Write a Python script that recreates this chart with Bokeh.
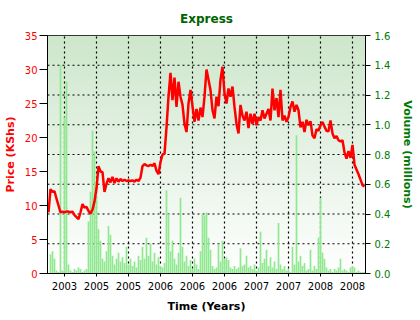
import numpy as np
from bokeh.plotting import figure
from bokeh.models import Range1d, LinearAxis, FixedTicker, Span, PrintfTickFormatter
from bokeh.embed import file_html
from bokeh.resources import INLINE

# ---- data (one sample per trading period) ----
price = [
    9.0, 12.4, 12.0, 12.1, 11.0, 10.0, 9.0, 9.1, 9.0, 9.1,
    9.1, 9.0, 9.1, 8.6, 8.3, 8.0, 9.0, 10.2, 9.7, 9.8,
    9.2, 8.8, 9.4, 10.6, 12.5, 15.8, 15.0, 14.9, 12.0, 13.2,
    14.0, 13.4, 14.2, 13.3, 14.0, 13.5, 13.9, 13.6, 13.8, 13.6,
    13.7, 13.6, 13.7, 13.5, 13.8, 13.6, 14.1, 15.8, 16.1, 15.9,
    15.8, 16.0, 15.8, 16.2, 15.1, 14.6, 16.4, 17.5, 17.6, 21.5,
    26.0, 29.5, 25.5, 28.8, 24.5, 28.2, 26.0, 24.8, 22.0, 20.8,
    25.0, 27.0, 24.6, 22.3, 24.2, 22.5, 24.4, 23.0, 26.0, 30.0,
    28.5, 27.0, 24.0, 22.8, 26.0, 24.6, 28.5, 30.4, 26.5, 25.0,
    27.2, 26.0, 27.5, 24.5, 22.0, 20.6, 24.8, 23.2, 22.5, 23.8,
    21.4, 23.5, 22.0, 23.5, 21.8, 23.0, 22.5, 24.0, 22.8, 23.5,
    24.2, 22.5, 27.2, 24.0, 25.8, 23.0, 27.0, 22.5, 23.2, 22.3,
    23.0, 24.5, 25.3, 23.8, 24.8, 24.0, 21.5, 22.3, 20.8, 22.6,
    21.8, 22.4, 20.3, 19.9, 21.2, 21.0, 21.8, 22.3, 21.6, 21.0,
    20.9, 22.5, 20.6, 19.9, 20.2, 19.6, 19.4, 19.6, 17.8, 16.9,
    18.0, 17.0, 18.9, 16.0, 15.3, 14.6, 13.8, 13.0, 12.8,
]
volume = [
    0.00, 0.13, 0.15, 0.10, 0.02, 0.01, 1.40, 0.02, 1.05, 1.29,
    0.06, 0.02, 0.01, 0.03, 0.02, 0.04, 0.03, 0.01, 0.02, 0.03,
    0.35, 0.55, 0.96, 0.82, 0.52, 0.30, 0.22, 0.10, 0.08, 0.15,
    0.32, 0.26, 0.12, 0.06, 0.10, 0.14, 0.08, 0.11, 0.07, 0.18,
    0.06, 0.10, 0.05, 0.08, 0.04, 0.12, 0.09, 0.18, 0.10, 0.24,
    0.12, 0.20, 0.08, 0.14, 0.06, 0.11, 0.05, 0.04, 0.07, 0.56,
    0.40, 0.15, 0.22, 0.10, 0.06, 0.14, 0.51, 0.18, 0.08, 0.12,
    0.05, 0.09, 0.03, 0.10, 0.06, 0.03, 0.15, 0.40, 0.39, 0.41,
    0.24, 0.16, 0.05, 0.03, 0.04, 0.20, 0.08, 0.22, 0.10, 0.11,
    0.09, 0.04, 0.03, 0.05, 0.03, 0.04, 0.17, 0.05, 0.06, 0.12,
    0.04, 0.05, 0.03, 0.06, 0.02, 0.04, 0.28, 0.07, 0.10, 0.16,
    0.05, 0.11, 0.04, 0.08, 0.03, 0.34, 0.06, 0.03, 0.05, 0.02,
    0.03, 0.01, 0.18, 0.06, 0.93, 0.08, 0.12, 0.05, 0.07, 0.02,
    0.03, 0.16, 0.02, 0.05, 0.03, 0.24, 0.51, 0.14, 0.10, 0.04,
    0.02, 0.03, 0.01, 0.03, 0.02, 0.04, 0.10, 0.02, 0.03, 0.02,
    0.01, 0.04, 0.05, 0.04, 0.01, 0.02, 0.01, 0.01, 0.01,
]
tick_positions = [8, 24, 40, 56, 72, 88, 104, 120, 136, 152]
tick_labels = ["2003", "2005", "2005", "2006", "2006", "2006",
               "2007", "2007", "2008", "2008"]
price_ticks = [0, 5, 10, 15, 20, 25, 30, 35]
volume_ticks = [0.0, 0.2, 0.4, 0.6, 0.8, 1.0, 1.2, 1.4, 1.6]

PRICE_MAX = 35
VOL_MAX = 1.6

x = list(range(len(price)))
n = len(price)

FONT = "DejaVu Sans"
RED = "#ff0000"
GREEN = "#007a00"

p = figure(frame_width=318, frame_height=238,
           min_border_left=41, min_border_right=45,
           min_border_top=35, min_border_bottom=31,
           x_range=Range1d(-0.5, n - 0.5), y_range=Range1d(0, PRICE_MAX),
           output_backend="svg", toolbar_location=None, title="Express")
p.extra_y_ranges = {"vol": Range1d(0, VOL_MAX)}

p.background_fill_color = "white"
p.border_fill_color = "white"
p.outline_line_color = "black"
p.outline_line_width = 1

# title
p.title.align = "center"
p.title.text_color = "#006400"
p.title.text_font = FONT
p.title.text_font_size = "12px"
p.title.text_font_style = "bold"
p.title.standoff = 19

# gradient background (style only)
H = 240
top = np.array([206, 231, 204], dtype=float)
bot = np.array([255, 255, 255], dtype=float)
t = np.linspace(0, 1, H)[:, None]
cols = (bot * (1 - t) + top * t).astype(np.uint32)
img = np.empty((H, 1), dtype=np.uint32)
view = img.view(dtype=np.uint8).reshape((H, 1, 4))
view[:, 0, 0] = cols[:, 0]
view[:, 0, 1] = cols[:, 1]
view[:, 0, 2] = cols[:, 2]
view[:, 0, 3] = 255
bg = p.image_rgba(image=[img], x=-0.5, y=0, dw=n, dh=PRICE_MAX)
bg.level = "image"

# grids: vertical at the time ticks, horizontal at the volume ticks
p.xgrid.ticker = FixedTicker(ticks=tick_positions)
p.xgrid.grid_line_color = "black"
p.xgrid.grid_line_dash = "2 3"
p.xgrid.grid_line_width = 1.2
p.ygrid.visible = False
for v in volume_ticks[1:-1]:
    # volume tick expressed on the (default) price scale
    p.add_layout(Span(location=v * PRICE_MAX / VOL_MAX, dimension="width",
                      line_color="black", line_dash="2 3", line_width=1.2,
                      level="underlay"))

# volume bars
p.vbar(x=x, top=volume, bottom=0, width=0.85, y_range_name="vol",
       fill_color="#90e890", line_color=None)

# price line
p.line(x, price, line_color="#ff0000", line_width=2.5)

# left axis
ya = p.yaxis[0]
ya.ticker = FixedTicker(ticks=price_ticks)
ya.axis_label = "Price (KShs)"
ya.axis_label_text_color = RED
ya.axis_label_text_font = FONT
ya.axis_label_text_font_size = "11px"
ya.axis_label_text_font_style = "bold"
ya.axis_label_standoff = 5
ya.major_label_text_color = RED
ya.major_label_text_font = FONT
ya.major_label_text_font_size = "10px"
ya.major_label_standoff = 2
ya.major_tick_out = 8
ya.major_tick_in = 0
ya.minor_tick_out = 0
ya.minor_tick_in = 0
ya.axis_line_color = "black"
ya.major_tick_line_color = "black"

# right axis
ra = LinearAxis(y_range_name="vol", ticker=FixedTicker(ticks=volume_ticks),
                formatter=PrintfTickFormatter(format="%.1f"),
                axis_label="Volume (millions)")
ra.axis_label_text_color = GREEN
ra.axis_label_text_font = FONT
ra.axis_label_text_font_size = "11px"
ra.axis_label_text_font_style = "bold"
ra.axis_label_standoff = 8
ra.major_label_text_color = GREEN
ra.major_label_text_font = FONT
ra.major_label_text_font_size = "10px"
ra.major_label_standoff = 4
ra.major_tick_out = 5
ra.major_tick_in = 0
ra.minor_tick_out = 0
ra.minor_tick_in = 0
ra.axis_line_color = "black"
ra.major_tick_line_color = "black"
p.add_layout(ra, "right")

# bottom axis
xa = p.xaxis[0]
xa.ticker = FixedTicker(ticks=tick_positions)
xa.major_label_overrides = {tp: lab for tp, lab in zip(tick_positions, tick_labels)}
xa.axis_label = "Time (Years)"
xa.axis_label_text_color = "black"
xa.axis_label_text_font = FONT
xa.axis_label_text_font_size = "11px"
xa.axis_label_text_font_style = "bold"
xa.axis_label_standoff = 7
xa.major_label_text_color = "black"
xa.major_label_text_font = FONT
xa.major_label_text_font_size = "10px"
xa.major_label_standoff = 5
xa.major_tick_out = 3
xa.major_tick_in = 0
xa.minor_tick_out = 0
xa.minor_tick_in = 0
xa.axis_line_color = "black"

open("out.html", "w").write(file_html(p, INLINE))
